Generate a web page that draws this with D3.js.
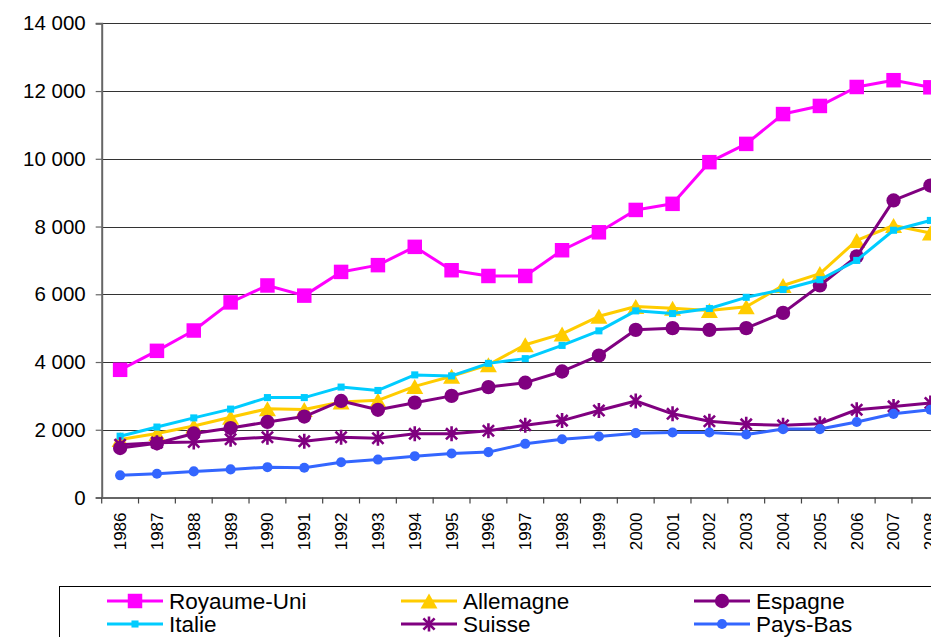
<!DOCTYPE html>
<html>
<head>
<meta charset="utf-8">
<script src="https://cdn.jsdelivr.net/npm/d3@7"></script>
<style>
  html, body { margin: 0; padding: 0; background: #fff; overflow: hidden; }
  svg { display: block; }
  text { font-family: "Liberation Sans", Arial, sans-serif; fill: #000; }
</style>
</head>
<body>
<script>
const years = ["1986","1987","1988","1989","1990","1991","1992","1993","1994","1995","1996","1997","1998","1999","2000","2001","2002","2003","2004","2005","2006","2007","2008"];
const yTicks = [0, 2000, 4000, 6000, 8000, 10000, 12000, 14000];

const royaumeUni = [3770, 4330, 4930, 5760, 6260, 5960, 6660, 6860, 7400, 6710, 6540, 6540, 7300, 7830, 8490, 8670, 9900, 10440, 11320, 11560, 12120, 12320, 12110];
const allemagne  = [1710, 1890, 2110, 2370, 2620, 2600, 2820, 2870, 3280, 3580, 3920, 4510, 4830, 5350, 5640, 5590, 5520, 5630, 6260, 6610, 7590, 8030, 7810];
const espagne    = [1460, 1600, 1890, 2050, 2230, 2390, 2850, 2590, 2800, 3000, 3260, 3390, 3720, 4190, 4950, 5000, 4950, 5000, 5450, 6260, 7120, 8770, 9210];
const italie     = [1810, 2080, 2350, 2610, 2950, 2950, 3260, 3160, 3620, 3590, 3960, 4100, 4490, 4920, 5510, 5430, 5580, 5910, 6140, 6430, 7000, 7890, 8180];
const suisse     = [1560, 1620, 1640, 1720, 1780, 1660, 1780, 1750, 1880, 1880, 1970, 2130, 2270, 2570, 2850, 2470, 2250, 2160, 2130, 2180, 2590, 2690, 2790];
const paysBas    = [655, 700, 770, 830, 895, 880, 1040, 1120, 1220, 1300, 1340, 1585, 1720, 1800, 1900, 1920, 1920, 1860, 2020, 2020, 2230, 2470, 2590];

const seriesNames = ["Royaume-Uni", "Allemagne", "Espagne", "Italie", "Suisse", "Pays-Bas"];
const seriesValues = [royaumeUni, allemagne, espagne, italie, suisse, paysBas];

// styling
const colors = ["#FF00FF", "#FFCC00", "#800080", "#00CCFF", "#800080", "#3366FF"];

const triangleType = { draw(ctx, size) { const w = 17, h = 15; ctx.moveTo(0, -h/2); ctx.lineTo(w/2, h/2); ctx.lineTo(-w/2, h/2); ctx.closePath(); } };
const starType = { draw(ctx, size) { const r = 7.5, d = 5.6;
  ctx.moveTo(0, -r); ctx.lineTo(0, r);
  ctx.moveTo(-d, -d); ctx.lineTo(d, d);
  ctx.moveTo(-d, d); ctx.lineTo(d, -d); } };

const markers = [
  { type: d3.symbolSquare, size: 210, fill: true },
  { type: triangleType, size: 1, fill: true },
  { type: d3.symbolCircle, size: 160, fill: true },
  { type: d3.symbolSquare, size: 50, fill: true },
  { type: starType, size: 1, fill: false },
  { type: d3.symbolCircle, size: 80, fill: true }
];

const W = 960, H = 637;
const svg = d3.select("body").append("svg").attr("width", W).attr("height", H);

const x0 = 101.7, bw = 36.83;
const x = d3.scaleBand().domain(years).range([x0, x0 + bw * years.length]).padding(0);
const y = d3.scaleLinear().domain([0, 14000]).range([497.5, 23.3]);

const fmt = d3.formatLocale({ decimal: ",", thousands: " ", grouping: [3], currency: ["", ""] }).format(",d");

// gridlines
svg.append("g").selectAll("line").data(yTicks.filter(d => d > 0)).join("line")
  .attr("x1", x0).attr("x2", x0 + bw * years.length)
  .attr("y1", d => Math.round(y(d)) + 0.5).attr("y2", d => Math.round(y(d)) + 0.5)
  .attr("stroke", "#333").attr("stroke-width", 1.1);

// y axis
const yAxis = svg.append("g").attr("transform", `translate(${x0},0)`)
  .call(d3.axisLeft(y).tickValues(yTicks).tickSize(6).tickPadding(10).tickFormat(fmt));
yAxis.select(".domain").attr("stroke", "#666").attr("stroke-width", 2);
yAxis.selectAll(".tick line").attr("stroke", "#666").attr("stroke-width", 1.2);
yAxis.selectAll(".tick text").attr("font-size", "20.5px").attr("font-family", "Liberation Sans, Arial, sans-serif").attr("fill", "#000");

// x axis (labels at band centres)
const xAxis = svg.append("g").attr("transform", `translate(0,${y(0)})`)
  .call(d3.axisBottom(x).tickSize(0).tickPadding(0));
xAxis.select(".domain").attr("stroke", "#666").attr("stroke-width", 2);
xAxis.selectAll(".tick text")
  .attr("font-size", "17px").attr("font-family", "Liberation Sans, Arial, sans-serif").attr("fill", "#000")
  .attr("text-anchor", "end")
  .attr("transform", "translate(0,15) rotate(-90)")
  .attr("x", 0).attr("y", 0).attr("dy", "0.35em");
// x tick marks at band boundaries
const bounds = years.map(d => x(d)).concat([x(years[years.length - 1]) + x.bandwidth()]);
svg.append("g").selectAll("line").data(bounds).join("line")
  .attr("x1", d => d).attr("x2", d => d)
  .attr("y1", y(0)).attr("y2", y(0) + 6)
  .attr("stroke", "#444").attr("stroke-width", 1.2);

// series
const cx = d => x(d) + x.bandwidth() / 2;
seriesValues.forEach((vals, i) => {
  const g = svg.append("g");
  const pts = years.map((yr, j) => [cx(yr), y(vals[j])]);
  g.append("path").attr("d", d3.line()(pts))
    .attr("fill", "none").attr("stroke", colors[i]).attr("stroke-width", 3).attr("stroke-linejoin", "round");
  const m = markers[i];
  g.selectAll("path.m").data(pts).join("path").attr("class", "m")
    .attr("transform", p => `translate(${p[0]},${p[1]})`)
    .attr("d", d3.symbol().type(m.type).size(m.size)())
    .attr("fill", m.fill ? colors[i] : "none")
    .attr("stroke", colors[i]).attr("stroke-width", m.fill ? 0 : 2.6);
});

// legend
const lg = svg.append("g");
lg.append("rect").attr("x", 59.5).attr("y", 586.5).attr("width", 920).attr("height", 80)
  .attr("fill", "#fff").attr("stroke", "#000").attr("stroke-width", 1);
const colX = [107, 401, 694], rowY = [601, 624];
seriesNames.forEach((name, i) => {
  const lx = colX[i % 3], ly = rowY[Math.floor(i / 3)];
  const it = lg.append("g");
  it.append("line").attr("x1", lx).attr("x2", lx + 56).attr("y1", ly).attr("y2", ly)
    .attr("stroke", colors[i]).attr("stroke-width", 3);
  const m = markers[i];
  it.append("path").attr("transform", `translate(${lx + 28},${ly})`)
    .attr("d", d3.symbol().type(m.type).size(m.size)())
    .attr("fill", m.fill ? colors[i] : "none")
    .attr("stroke", colors[i]).attr("stroke-width", m.fill ? 0 : 2.6);
  it.append("text").attr("x", lx + 62).attr("y", ly).attr("dy", "0.36em")
    .attr("font-size", "22.5px").text(name);
});
</script>
</body>
</html>
